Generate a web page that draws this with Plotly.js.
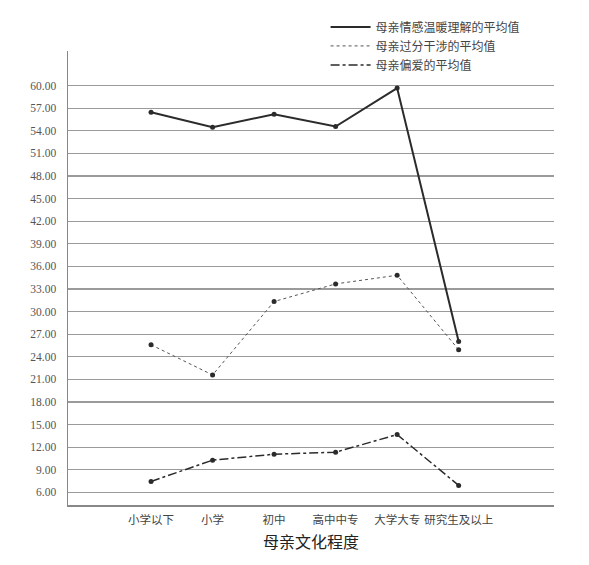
<!DOCTYPE html>
<html>
<head>
<meta charset="utf-8">
<script src="https://cdn.plot.ly/plotly-3.0.1.min.js"></script>
<style>
  html, body { margin: 0; padding: 0; background: #fff; }
  #chart { width: 589px; height: 565px; }
</style>
</head>
<body>
<div id="chart"></div>
<script>
const categories = ['小学以下', '小学', '初中', '高中中专', '大学大专', '研究生及以上'];
const warmthMeans = [56.46, 54.48, 56.20, 54.57, 59.68, 26.04];
const interferenceMeans = [25.60, 21.59, 31.34, 33.68, 34.83, 24.94];
const favoritismMeans = [7.46, 10.28, 11.07, 11.34, 13.68, 6.93];
const yTicks = [6, 9, 12, 15, 18, 21, 24, 27, 30, 33, 36, 39, 42, 45, 48, 51, 54, 57, 60];

const CJK_FONT = 'Noto Sans CJK SC, sans-serif';
const NUM_FONT = 'Liberation Serif, DejaVu Serif, serif';
const INK = '#2b2b2b';

const marker = { size: 5, color: INK };

// line styles per series, shared by the data trace and its legend entry
const series = [
  { name: '母亲情感温暖理解的平均值', y: warmthMeans, line: { color: INK, width: 2, dash: 'solid' } },
  { name: '母亲过分干涉的平均值', y: interferenceMeans, line: { color: '#555', width: 1, dash: 'dot' } },
  { name: '母亲偏爱的平均值', y: favoritismMeans, line: { color: INK, width: 1.5, dash: 'dashdot' } },
];

const dataTraces = series.map((s) => ({
  name: s.name,
  type: 'scatter',
  mode: 'lines+markers',
  x: categories,
  y: s.y,
  line: s.line,
  marker,
  showlegend: false,
}));

// legend shows line samples only, no markers
const legendTraces = series.map((s) => ({
  name: s.name,
  type: 'scatter',
  mode: 'lines',
  x: [categories[0]],
  y: [null],
  line: s.line,
  showlegend: true,
}));

const layout = {
  width: 589,
  height: 565,
  paper_bgcolor: '#fff',
  plot_bgcolor: '#fff',
  margin: { l: 68, r: 35, t: 49, b: 60 },
  font: { family: CJK_FONT, color: '#444', size: 12 },
  showlegend: true,
  legend: {
    x: 0.53,
    y: 1.085,
    xanchor: 'left',
    yanchor: 'top',
    bgcolor: 'rgba(0,0,0,0)',
    font: { family: CJK_FONT, size: 12, color: '#444' },
    tracegroupgap: 0,
    itemwidth: 40,
  },
  xaxis: {
    type: 'category',
    showgrid: false,
    showline: true,
    linecolor: '#888',
    linewidth: 1.5,
    ticks: 'outside',
    ticklen: 4,
    tickcolor: 'rgba(0,0,0,0)',
    tickangle: 0,
    tickfont: { family: CJK_FONT, size: 11.5, color: '#444' },
    range: [-1.35, 6.55],
    title: {
      text: '母亲文化程度',
      font: { family: CJK_FONT, size: 16, color: '#222' },
      standoff: 10,
    },
  },
  yaxis: {
    range: [4.33, 64.6],
    tickmode: 'array',
    tickvals: yTicks,
    tickformat: '.2f',
    showgrid: true,
    gridcolor: '#9a9a9a',
    gridwidth: 1.2,
    zeroline: false,
    showline: true,
    linecolor: '#888',
    linewidth: 1.5,
    ticks: 'outside',
    ticklen: 8,
    tickcolor: 'rgba(0,0,0,0)',
    tickfont: { family: NUM_FONT, size: 11.5, color: '#555' },
  },
};

Plotly.newPlot('chart', [...dataTraces, ...legendTraces], layout, { displayModeBar: false, staticPlot: true });
</script>
</body>
</html>
